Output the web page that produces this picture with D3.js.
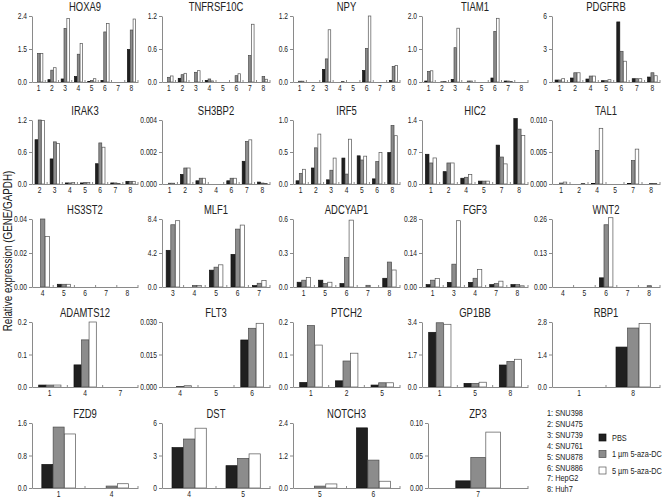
<!DOCTYPE html>
<html><head><meta charset="utf-8">
<script src="https://cdn.jsdelivr.net/npm/d3@7"></script>
<style>
body{margin:0;background:#fff}
svg{display:block}
text{font-family:"Liberation Sans",Arial,sans-serif;fill:#222}
</style>
</head><body><svg id="c" width="664" height="499"></svg>
<script>
// ---------- DATA ----------
const genes = ["HOXA9","TNFRSF10C","NPY","TIAM1","PDGFRB",
  "IRAK3","SH3BP2","IRF5","HIC2","TAL1",
  "HS3ST2","MLF1","ADCYAP1","FGF3","WNT2",
  "ADAMTS12","FLT3","PTCH2","GP1BB","RBP1",
  "FZD9","DST","NOTCH3","ZP3"];
const cellLines = ["1: SNU398","2: SNU475","3: SNU739","4: SNU761","5: SNU878","6: SNU886","7: HepG2","8: Huh7"];
const seriesNames = ["PBS","1 µm 5-aza-DC","5 µm 5-aza-DC"];
const geneCategories = [
  ["1","2","3","4","5","6","7","8"],["1","2","3","4","5","6","7","8"],["1","2","3","4","5","6","7","8"],["1","2","3","4","5","6","7","8"],["1","2","4","5","6","7","8"],
  ["2","3","4","5","6","7","8"],["1","2","3","4","6","7","8"],["1","2","3","4","5","6","8"],["1","2","4","5","7","8"],["1","2","4","5","7","8"],
  ["4","5","6","7","8"],["3","4","5","6","7"],["1","5","6","7","8"],["1","3","4","7","8"],["4","5","6","7","8"],
  ["1","4","7"],["4","5","6"],["1","2","5"],["1","5","8"],["1","8"],
  ["1","4"],["4","5"],["5","6"],["7"]
];
const pbsValues = [
  [0,0.085,0.11,0.2,0.02,0.06,0,1.18],
  [0,0.067,0,0.03,0,0,0,0],
  [0,0,0.23,0,0,0.21,0,0.03],
  [0.03,0,0.08,0,0,0.12,0.03,0],
  [0.18,0.36,0.27,0.12,5.46,0.3,0.45],
  [0.83,0.47,0.02,0.02,0.38,0.02,0.05],
  [0,0.0006,0.0002,0,0.0002,0.00142,0.00012],
  [0.05,0.25,0.065,0.405,0.44,0.08,0.49],
  [0.65,0.27,0.126,0.063,0.85,1.43],
  [0,0,0.0001,0,0.0001,0],
  [0,0.0016,0,0,0],
  [4.53,0,2.08,4.03,0.17],
  [0.042,0.06,0.03,0,0.077],
  [0.0097,0.019,0.019,0.0097,0.0097],
  [0,0,0.035,0,0],
  [0.006,0.068,0],
  [0,0,0.0217],
  [0.014,0.019,0.006],
  [2.86,0.19,1.15],
  [0,1.72],
  [0.58,0],
  [3.73,2.06],
  [0,2.22],
  [0.011]
];
const aza1Values = [
  [1.04,0.43,1.95,1.01,0.06,1.82,0,1.89],
  [0.085,0.133,0.176,0.055,0,0.115,0.48,0.1],
  [0.015,0,0.42,0,0,0.61,0,0.28],
  [0.32,0.01,1.04,0.03,0,1.53,0.03,0],
  [0.18,0.84,0.54,0.12,2.79,0.3,0.84],
  [1.2,0.79,0.02,0.03,0.77,0.02,0.05],
  [0.00005,0.001,0.00036,0,0.00036,0.00266,0.00006],
  [0.165,0.565,0.215,0.155,0.375,0.35,0.915],
  [0.46,0.46,0.147,0.063,0.59,1.2],
  [0.00015,0,0.00525,0,0.00365,0.0001],
  [0.04,0.0016,0,0,0],
  [7.69,0.2,2.45,7.15,0.46],
  [0.06,0.03,0.26,0.015,0.22],
  [0.028,0.094,0.036,0.014,0.0097],
  [0,0,0.238,0,0.005],
  [0.006,0.145,0],
  [0.0003,0,0.0271],
  [0.189,0.08,0.013],
  [3.36,0.19,1.34],
  [0,2.54],
  [1.5,0.048],
  [4.52,2.73],
  [0.07,1.03],
  [0.047]
];
const aza5Values = [
  [1.04,0.52,2.31,1.4,0.12,2.13,0,2.29],
  [0.11,0.158,0.206,0.02,0,0.15,1.05,0.05],
  [0.015,0,0.95,0.01,0,1.2,0,0.3],
  [0.34,0.02,1.63,0.03,0,1.93,0.02,0],
  [0.3,0.84,0.54,0.21,1.89,0.3,0.57],
  [1.19,0.76,0.03,0.03,0.69,0.01,0.05],
  [0.00005,0.001,0.00036,0,0.00036,0.00276,0.00004],
  [0.23,0.78,0.405,0.7,0.435,0.49,0.755],
  [0.57,0.46,0.21,0.063,0.44,1.06],
  [0.0003,0.0001,0.0087,0,0.00545,0.0001],
  [0.0297,0.0016,0,0,0],
  [8.19,0.2,2.74,7.65,0.79],
  [0.083,0.042,0.59,0,0.15],
  [0.035,0.273,0.072,0.024,0.005],
  [0,0,0.265,0,0],
  [0.006,0.2,0],
  [0.0006,0,0.0294],
  [0.129,0.104,0.013],
  [3.28,0.25,1.45],
  [0,2.73],
  [1.33,0.105],
  [5.52,3.15],
  [0.15,0.25],
  [0.086]
];
const axisMax = [2.4,1.2,1.2,2.0,6, 1.2,0.004,1.0,1.4,0.010, 0.04,8.4,0.6,0.28,0.26, 0.2,0.030,0.2,3.4,2.8, 1.6,6,2.4,0.10];
const yTickLabels = [
  ["0.0","1.5","2.4"],["0.0","0.6","1.2"],["0.0","0.6","1.2"],["0.0","1.0","2.0"],["0","3","6"],
  ["0.0","0.6","1.2"],["0.000","0.002","0.004"],["0.0","0.5","1.0"],["0.0","0.7","1.4"],["0.000","0.005","0.010"],
  ["0.00","0.02","0.04"],["0.0","4.2","8.4"],["0.0","0.3","0.6"],["0.00","0.14","0.28"],["0.00","0.13","0.26"],
  ["0.0","0.1","0.2"],["0.000","0.015","0.030"],["0.0","0.1","0.2"],["0.0","1.7","3.4"],["0.0","1.4","2.8"],
  ["0.0","0.8","1.6"],["0","3","6"],["0.0","1.2","2.4"],["0.00","0.05","0.10"]
];
const yAxisTitle = "Relative expression (GENE/GAPDH)";

// ---------- LAYOUT ----------
const colX = [32,162,293,422,552];
const colW = [106,108,107,106,108];
const rowTop = [16,120,219,322,423];
const rowBottom = [82,184,287,387,488];
const fills = ["#202020","#8c8c8c","#ffffff"];
const strokes = ["#111","#4a4a4a","#555"];
const axisColor = "#8a8a8a";
const SQ = 0.76; // horizontal squeeze to mimic a condensed face

const svg = d3.select("#c");

function ctext(parent, x, y, str, size, k, anchor){
  return parent.append("text")
    .attr("transform", `translate(${x},${y}) scale(${k},1)`)
    .attr("text-anchor", anchor || "start")
    .style("font-size", size + "px").text(str);
}
function squeezeTicks(axisG, k){
  axisG.selectAll(".tick text").each(function(){
    const t = d3.select(this);
    const xv = +(t.attr("x") || 0);
    t.attr("x", xv / k).attr("transform", `scale(${k},1)`);
  });
}

genes.forEach((g,i)=>{
  const r = Math.floor(i/5), c = i%5;
  let x0 = colX[c], w = colW[c], pin = 0.36;
  if (g === "ZP3") { x0 = 428; w = 100; pin = 0.55; }
  const top = rowTop[r], bot = rowBottom[r];
  const cats = geneCategories[i];
  const x = d3.scaleBand().domain(cats).range([x0, x0+w]).paddingInner(pin).paddingOuter(pin/2);
  const sub = d3.scaleBand().domain([0,1,2]).range([0, x.bandwidth()]);
  const y = d3.scaleLinear().domain([0, axisMax[i]]).range([bot, top]);
  const gp = svg.append("g");

  // title
  ctext(gp, x0 + w/2, top - 5, g, 12.8, 0.74, "middle");

  // bars
  const series = [pbsValues[i], aza1Values[i], aza5Values[i]];
  series.forEach((vals,s)=>{
    gp.selectAll(null).data(cats.map((k,j)=>({k, v: vals[j]})).filter(d=>d.v>0))
      .enter().append("rect")
      .attr("x", d=>x(d.k)+sub(s)+0.3)
      .attr("y", d=>y(d.v))
      .attr("width", sub.bandwidth()-0.3)
      .attr("height", d=>Math.max(0.6, bot - y(d.v)))
      .attr("fill", fills[s]).attr("stroke", strokes[s]).attr("stroke-width", 0.7);
  });

  // y axis
  const lbls = yTickLabels[i];
  const ya = gp.append("g").attr("transform", `translate(${x0},0)`)
    .call(d3.axisLeft(y).tickValues([0, axisMax[i]/2, axisMax[i]])
      .tickFormat((d,k)=>lbls[k]).tickSize(3).tickSizeOuter(0).tickPadding(2));
  ya.select(".domain").attr("stroke", axisColor);
  ya.selectAll(".tick line").attr("stroke", axisColor);
  ya.selectAll(".tick text").style("font-size","8.8px").attr("fill","#333");
  squeezeTicks(ya, SQ);

  // x axis
  const xa = gp.append("g").attr("transform", `translate(0,${bot})`)
    .call(d3.axisBottom(x).tickSize(0).tickSizeOuter(0).tickPadding(3));
  xa.select(".domain").attr("stroke", axisColor);
  xa.selectAll(".tick text").style("font-size","8.8px").attr("fill","#333");
  squeezeTicks(xa, SQ);
  // small separator ticks between groups
  const step = x.step();
  const seps = cats.slice(1).map(k => x(k) - step*pin/2).concat([x0+w]);
  xa.selectAll(".sep").data(seps).enter().append("line")
    .attr("x1", d=>d).attr("x2", d=>d).attr("y1", 0).attr("y2", -2)
    .attr("stroke", axisColor);
});

// y axis title
svg.append("text").attr("transform","translate(12,251) rotate(-90) scale(0.82,1)")
  .attr("text-anchor","middle").style("font-size","12px").text(yAxisTitle);

// cell line list
cellLines.forEach((d,i)=>{
  ctext(svg, 547, 413 + i*10.86, d, 9.3, 0.79, "start").attr("dy","0.35em");
});

// series legend
const lg = svg.append("g");
seriesNames.forEach((n,s)=>{
  const cy = 437.5 + s*16.5;
  lg.append("rect").attr("x",599).attr("y",cy-3.5).attr("width",7).attr("height",7)
    .attr("fill",fills[s]).attr("stroke",strokes[s]).attr("stroke-width",0.7);
  ctext(lg, 612, cy, n, 9.3, 0.79, "start").attr("dy","0.35em");
});
</script>
</body></html>
